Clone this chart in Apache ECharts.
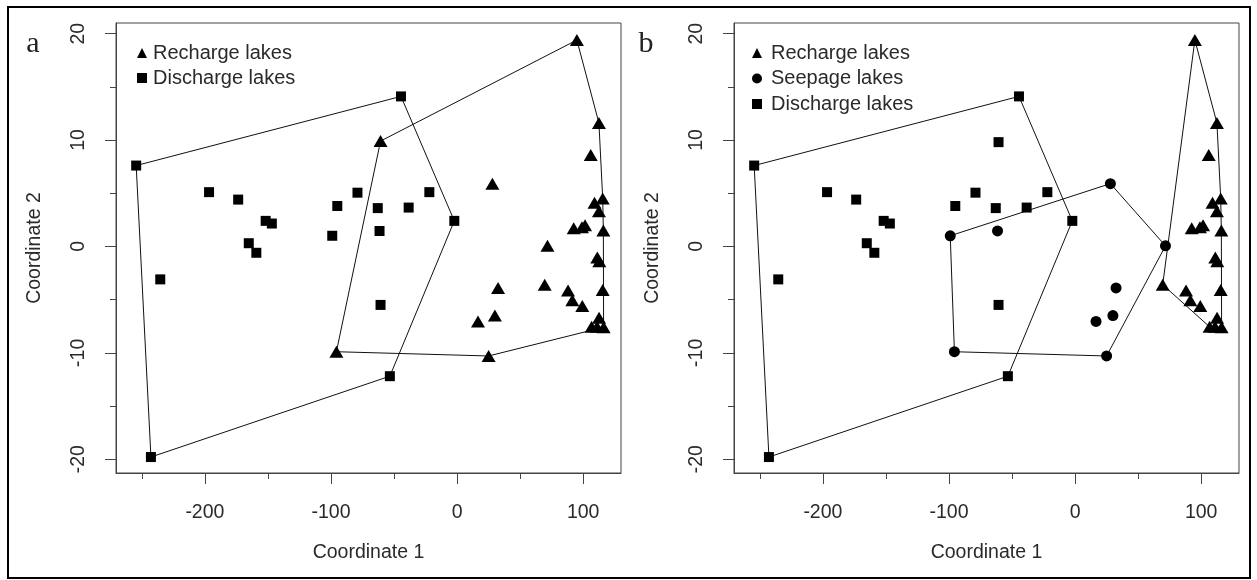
<!DOCTYPE html>
<html><head><meta charset="utf-8">
<script src="https://cdn.jsdelivr.net/npm/echarts@6/dist/echarts.min.js"></script>
<style>html,body{margin:0;padding:0;background:#fff}#c{width:1257px;height:580px}</style>
</head><body><div id="c"></div>
<script>
// ---- tick labels ----
const xTicks = [-200, -100, 0, 100];
const xMinorTicks = [-250, -150, -50, 50];
const yTicks = [-20, -10, 0, 10, 20];
const yMinorTicks = [-15, -5, 5, 15];

// ---- panel a ----
const aRecharge = [
  [95.0,19.4],[112.5,11.6],[106.0,8.6],[-60.7,9.9],[28.0,5.9],[109.0,4.1],[115.5,4.5],[112.5,3.3],
  [92.5,1.7],[99.0,1.8],[101.5,2.0],[116.0,1.5],[111.2,-1.05],[112.8,-1.4],[71.7,0.05],[32.5,-3.9],
  [69.5,-3.6],[88.0,-4.15],[91.4,-5.05],[99.3,-5.6],[115.5,-4.1],[16.6,-7.05],[30.0,-6.5],[25.0,-10.3],
  [112.6,-6.7],[106.7,-7.56],[111.0,-7.56],[116.2,-7.6],[-95.7,-9.9]
];
const aDischarge = [
  [-254.5,7.6],[-196.7,5.1],[-173.6,4.4],[-151.8,2.4],[-146.9,2.15],[-165.2,0.3],[-159.2,-0.6],
  [-95.0,3.8],[-79.0,5.05],[-99.0,1.0],[-44.5,14.1],[-62.9,3.6],[-38.4,3.65],[-22.0,5.1],
  [-61.5,1.45],[-2.2,2.4],[-235.4,-3.1],[-242.8,-19.8],[-60.7,-5.5],[-53.3,-12.2]
];

// ---- panel b ----
const bRecharge = [
  [95.0,19.4],[112.5,11.6],[106.0,8.6],[109.0,4.1],[115.5,4.5],[112.5,3.3],[92.5,1.7],[99.0,1.8],
  [101.5,2.0],[116.0,1.5],[111.2,-1.05],[112.8,-1.4],[69.5,-3.6],[88.0,-4.15],[91.4,-5.05],[99.3,-5.6],
  [115.5,-4.1],[112.6,-6.7],[106.7,-7.56],[111.0,-7.56],[116.2,-7.6]
];
const bSeepage = [
  [-99.0,1.0],[-61.5,1.45],[28.0,5.9],[71.7,0.05],[32.5,-3.9],[16.6,-7.05],[30.0,-6.5],[25.0,-10.3],[-95.7,-9.9]
];
const bDischarge = [
  [-254.5,7.6],[-196.7,5.1],[-173.6,4.4],[-151.8,2.4],[-146.9,2.15],[-165.2,0.3],[-159.2,-0.6],
  [-95.0,3.8],[-79.0,5.05],[-44.5,14.1],[-60.7,9.8],[-62.9,3.6],[-38.4,3.65],[-22.0,5.1],
  [-2.2,2.4],[-235.4,-3.1],[-242.8,-19.8],[-60.7,-5.5],[-53.3,-12.2]
];

// convex hull (monotone chain), closed
function hull(points) {
  const p = points.slice().sort((a, b) => a[0] - b[0] || a[1] - b[1]);
  const cross = (o, a, b) => (a[0]-o[0])*(b[1]-o[1]) - (a[1]-o[1])*(b[0]-o[0]);
  const lower = [], upper = [];
  for (const q of p) { while (lower.length >= 2 && cross(lower[lower.length-2], lower[lower.length-1], q) <= 0) lower.pop(); lower.push(q); }
  for (let i = p.length - 1; i >= 0; i--) { const q = p[i]; while (upper.length >= 2 && cross(upper[upper.length-2], upper[upper.length-1], q) <= 0) upper.pop(); upper.push(q); }
  upper.pop(); lower.pop();
  const h = lower.concat(upper);
  h.push(h[0]);
  return h;
}

const FONT = 'Liberation Sans, Arial, sans-serif';
const TXT = '#2a2a2a';
const AX = '#444';
const FS = 19.5;
const XMIN = -270.5, XMAX = 130, YMIN = -21.3, YMAX = 21;

function grids() {
  return [
    { left: 116, top: 23, width: 505, height: 450, show: true, borderColor: AX, borderWidth: 1, containLabel: false },
    { left: 734, top: 23, width: 505, height: 450, show: true, borderColor: AX, borderWidth: 1, containLabel: false }
  ];
}
function xAxes() {
  const out = [];
  [0, 1].forEach(g => {
    out.push({
      type: 'value', gridIndex: g, min: XMIN, max: XMAX, position: 'bottom',
      name: 'Coordinate 1', nameLocation: 'middle', nameGap: 70,
      nameTextStyle: { fontFamily: FONT, fontSize: FS, color: TXT },
      axisLine: { show: true, onZero: false, lineStyle: { color: AX, width: 1 } },
      axisTick: { show: true, length: 11, customValues: xTicks, lineStyle: { color: AX } },
      axisLabel: { show: true, customValues: xTicks, margin: 30, fontFamily: FONT, fontSize: FS, color: TXT },
      splitLine: { show: false }
    });
    out.push({
      type: 'value', gridIndex: g, min: XMIN, max: XMAX, position: 'bottom', offset: 0,
      axisLine: { show: false, onZero: false },
      axisTick: { show: true, length: 6, customValues: xMinorTicks, lineStyle: { color: AX } },
      axisLabel: { show: false },
      splitLine: { show: false }
    });
  });
  return out;
}
function yAxes() {
  const out = [];
  [0, 1].forEach(g => {
    out.push({
      type: 'value', gridIndex: g, min: YMIN, max: YMAX, position: 'left',
      name: 'Coordinate 2', nameLocation: 'middle', nameGap: 71,
      nameTextStyle: { fontFamily: FONT, fontSize: FS, color: TXT },
      axisLine: { show: true, onZero: false, lineStyle: { color: AX, width: 1 } },
      axisTick: { show: true, length: 11, customValues: yTicks, lineStyle: { color: AX } },
      axisLabel: { show: true, customValues: yTicks, rotate: 90, margin: 27, fontFamily: FONT, fontSize: FS, color: TXT },
      splitLine: { show: false }
    });
    out.push({
      type: 'value', gridIndex: g, min: YMIN, max: YMAX, position: 'left', offset: 0,
      axisLine: { show: false, onZero: false },
      axisTick: { show: true, length: 6, customValues: yMinorTicks, lineStyle: { color: AX } },
      axisLabel: { show: false },
      splitLine: { show: false }
    });
  });
  return out;
}

function scatter(name, data, g, symbol, size) {
  return {
    type: 'scatter', name, data, xAxisIndex: g * 2, yAxisIndex: g * 2,
    symbol, symbolSize: size, itemStyle: { color: '#000', opacity: 1 }, z: 5, silent: true
  };
}
function hullLine(data, g) {
  return {
    type: 'line', data: hull(data), xAxisIndex: g * 2, yAxisIndex: g * 2,
    symbol: 'none', lineStyle: { color: '#111', width: 1 }, z: 3, silent: true
  };
}

const TRI = [14, 12], SQ = 10, CIR = 11;

const option = {
  animation: false,
  backgroundColor: '#fff',
  grid: grids(),
  xAxis: xAxes(),
  yAxis: yAxes(),
  legend: [
    {
      left: 132, top: 38, orient: 'vertical', itemWidth: 10, itemHeight: 10, itemGap: 5, selectedMode: false,
      textStyle: { fontFamily: FONT, fontSize: 20, color: TXT, lineHeight: 20, padding: [0, 0, 0, 1] },
      data: [{ name: 'Recharge lakes', icon: 'triangle' }, { name: 'Discharge lakes', icon: 'rect' }]
    },
    {
      left: 747, top: 38, orient: 'vertical', itemWidth: 10, itemHeight: 10, itemGap: 5.5, selectedMode: false,
      textStyle: { fontFamily: FONT, fontSize: 20, color: TXT, lineHeight: 20, padding: [0, 0, 0, 4] },
      data: [{ name: 'Recharge lakes', icon: 'triangle' }, { name: 'Seepage lakes', icon: 'circle' }, { name: 'Discharge lakes', icon: 'rect' }]
    }
  ],
  series: [
    hullLine(aRecharge, 0), hullLine(aDischarge, 0),
    scatter('Recharge lakes', aRecharge, 0, 'triangle', TRI),
    scatter('Discharge lakes', aDischarge, 0, 'rect', SQ),
    hullLine(bRecharge, 1), hullLine(bSeepage, 1), hullLine(bDischarge, 1),
    scatter('Recharge lakes', bRecharge, 1, 'triangle', TRI),
    scatter('Seepage lakes', bSeepage, 1, 'circle', CIR),
    scatter('Discharge lakes', bDischarge, 1, 'rect', SQ)
  ],
  graphic: [
    { type: 'rect', shape: { x: 8, y: 7, width: 1242, height: 571 }, style: { fill: 'none', stroke: '#000', lineWidth: 2 }, silent: true },
    { type: 'text', x: 33, y: 44, style: { text: 'a', font: '30px "Liberation Serif", serif', fill: '#222', textAlign: 'center', textVerticalAlign: 'middle' } },
    { type: 'text', x: 646, y: 44, style: { text: 'b', font: '30px "Liberation Serif", serif', fill: '#222', textAlign: 'center', textVerticalAlign: 'middle' } }
  ]
};

const chart = echarts.init(document.getElementById('c'), null, { renderer: 'canvas' });
chart.setOption(option);
</script>
</body></html>
